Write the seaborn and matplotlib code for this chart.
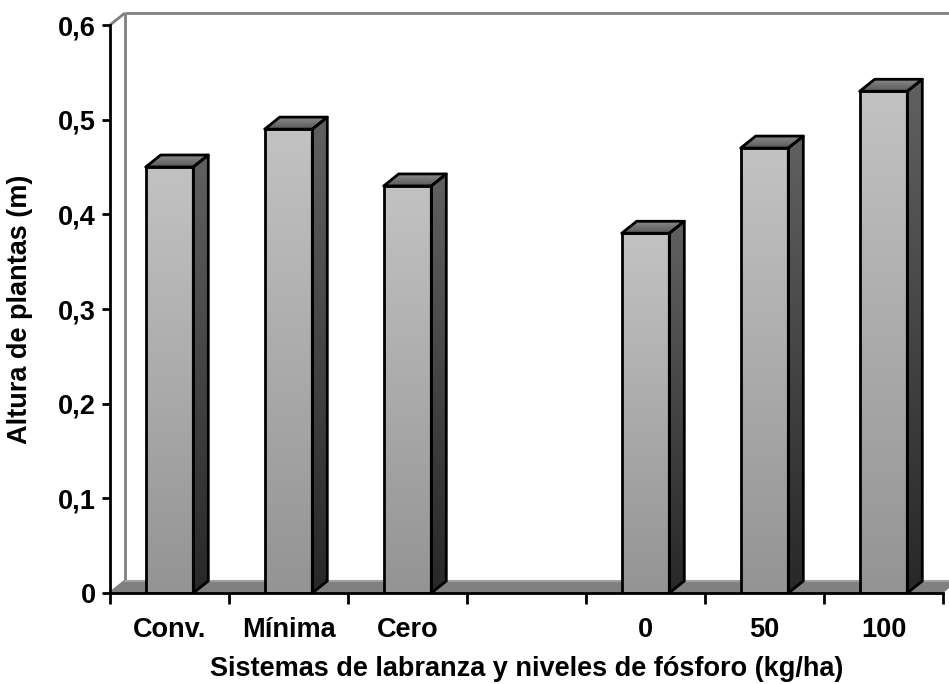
import numpy as np
import pandas as pd
import matplotlib
matplotlib.use("Agg")
import matplotlib.pyplot as plt
from matplotlib.patches import Polygon
import seaborn as sns

# Plant height by tillage system and phosphorus level
categories = ["Conv.", "Mínima", "Cero", "0", "50", "100"]
heights = [0.45, 0.49, 0.43, 0.38, 0.47, 0.53]
slot_order = ["Conv.", "Mínima", "Cero", " ", "0", "50", "100"]
y_ticks = [0.0, 0.1, 0.2, 0.3, 0.4, 0.5, 0.6]
y_tick_labels = ["0", "0,1", "0,2", "0,3", "0,4", "0,5", "0,6"]

sns.set_theme(style="white")
plt.rcParams["font.family"] = ["Liberation Sans", "DejaVu Sans"]
plt.rcParams["font.weight"] = "bold"
plt.rcParams["text.color"] = "black"
plt.rcParams["axes.labelcolor"] = "black"
plt.rcParams["xtick.color"] = "black"
plt.rcParams["ytick.color"] = "black"
plt.rcParams["xtick.labelcolor"] = "black"
plt.rcParams["ytick.labelcolor"] = "black"

FS = 19.5
W, H, DPI = 949, 684, 100
fig = plt.figure(figsize=(W / DPI, H / DPI), dpi=DPI)
ax = fig.add_axes([110 / W, (H - 593) / H, (943 - 110) / W, (593 - 25) / H])

df = pd.DataFrame({"cat": categories, "h": heights})
sns.barplot(data=df, x="cat", y="h", order=slot_order, width=0.4,
            color="#b0b0b0", edgecolor="black", linewidth=2, ax=ax,
            errorbar=None, zorder=5)

ax.set_xlim(-0.5, len(slot_order) - 0.5)
ax.set_ylim(0, 0.6)
ax.set_facecolor("none")
for s in ["top", "right"]:
    ax.spines[s].set_visible(False)
for s in ["left", "bottom"]:
    ax.spines[s].set_color("black")
    ax.spines[s].set_linewidth(2)
    ax.spines[s].set_zorder(8)

# depth of the 3D effect, given in pixels and converted to data units
DEPTH_PX = (15, 12)
fig.canvas.draw()
inv = ax.transData.inverted()
o = inv.transform(ax.transData.transform((0, 0)))
d = inv.transform(ax.transData.transform((0, 0)) + np.array(DEPTH_PX))
ddx, ddy = d - o

x0l, x1l = ax.get_xlim()
y0l, y1l = ax.get_ylim()


def gradient_fill(poly, c_top, c_bot, z=4):
    verts = poly.get_xy()
    xmin, ymin = verts.min(axis=0)
    xmax, ymax = verts.max(axis=0)
    a = np.array(matplotlib.colors.to_rgb(c_top))
    b = np.array(matplotlib.colors.to_rgb(c_bot))
    t = np.linspace(0, 1, 64)
    grad = a[None, :] * (1 - t[:, None]) + b[None, :] * t[:, None]
    img = grad[:, None, :]
    im = ax.imshow(img, extent=(xmin, xmax, ymin, ymax), origin="upper",
                   aspect="auto", zorder=z, interpolation="bilinear")
    im.set_clip_path(poly)
    return im


# floor
floor = Polygon([(x0l, 0), (x1l, 0), (x1l + ddx, ddy), (x0l + ddx, ddy)],
                closed=True, facecolor="#808080", edgecolor="none", zorder=1, clip_on=False)
ax.add_patch(floor)
ax.plot([x0l + ddx, x1l + ddx], [ddy, ddy], color="#a0a0a0", lw=1.5, zorder=1.5, clip_on=False)

# back walls
wall_kw = dict(color="#808080", lw=2, zorder=0.5, clip_on=False, solid_capstyle="butt")
ax.plot([x0l + ddx, x0l + ddx], [ddy, y1l + ddy], **wall_kw)
ax.plot([x0l + ddx, x1l + 2 * ddx], [y1l + ddy, y1l + ddy], **wall_kw)
ax.plot([x0l, x0l + ddx], [y1l, y1l + ddy], **wall_kw)
ax.plot([x0l, x0l + ddx], [0, ddy], **wall_kw)

# 3D faces for each bar
for p in list(ax.patches):
    if p is floor:
        continue
    h = p.get_height()
    if not np.isfinite(h) or h <= 0:
        continue
    xa = p.get_x()
    xb = xa + p.get_width()
    p.set_facecolor("none")
    p.set_zorder(7)
    front = Polygon([(xa, 0), (xb, 0), (xb, h), (xa, h)], closed=True,
                    facecolor="none", edgecolor="none")
    ax.add_patch(front)
    gradient_fill(front, "#c2c2c2", "#949494", z=4)

    side_xy = [(xb, 0), (xb + ddx, ddy), (xb + ddx, h + ddy), (xb, h)]
    side_fill = Polygon(side_xy, closed=True, facecolor="none", edgecolor="none")
    ax.add_patch(side_fill)
    gradient_fill(side_fill, "#606060", "#282828", z=4)
    ax.add_patch(Polygon(side_xy, closed=True, facecolor="none", edgecolor="black",
                         lw=2, zorder=7, joinstyle="round"))

    top_xy = [(xa, h), (xb, h), (xb + ddx, h + ddy), (xa + ddx, h + ddy)]
    top_fill = Polygon(top_xy, closed=True, facecolor="none", edgecolor="none")
    ax.add_patch(top_fill)
    gradient_fill(top_fill, "#8a8a8a", "#5a5a5a", z=4)
    ax.add_patch(Polygon(top_xy, closed=True, facecolor="none", edgecolor="black",
                         lw=2, zorder=7, joinstyle="round"))

ax.set_xlim(x0l, x1l)
ax.set_ylim(y0l, y1l)

# ticks
ax.set_yticks(y_ticks)
ax.set_yticklabels(y_tick_labels, fontsize=FS, fontweight="bold", color="black")
ax.tick_params(axis="y", which="major", left=True, direction="out", length=6, width=2,
               color="black", pad=4)
ax.set_xticks(range(len(slot_order)))
ax.set_xticklabels(slot_order, fontsize=FS, fontweight="bold", color="black")
ax.set_xticks(np.arange(-0.5, len(slot_order), 1.0), minor=True)
ax.tick_params(axis="x", which="major", bottom=True, length=0, pad=17)
ax.tick_params(axis="x", which="minor", bottom=True, direction="out", length=8, width=2,
               color="black")

ax.set_xlabel("Sistemas de labranza y niveles de fósforo (kg/ha)", fontsize=FS,
              fontweight="bold", labelpad=10, color="black")
ax.set_ylabel("Altura de plantas (m)", fontsize=FS, fontweight="bold", labelpad=18,
              color="black")

fig.savefig("out.png", dpi=DPI, facecolor="white")
